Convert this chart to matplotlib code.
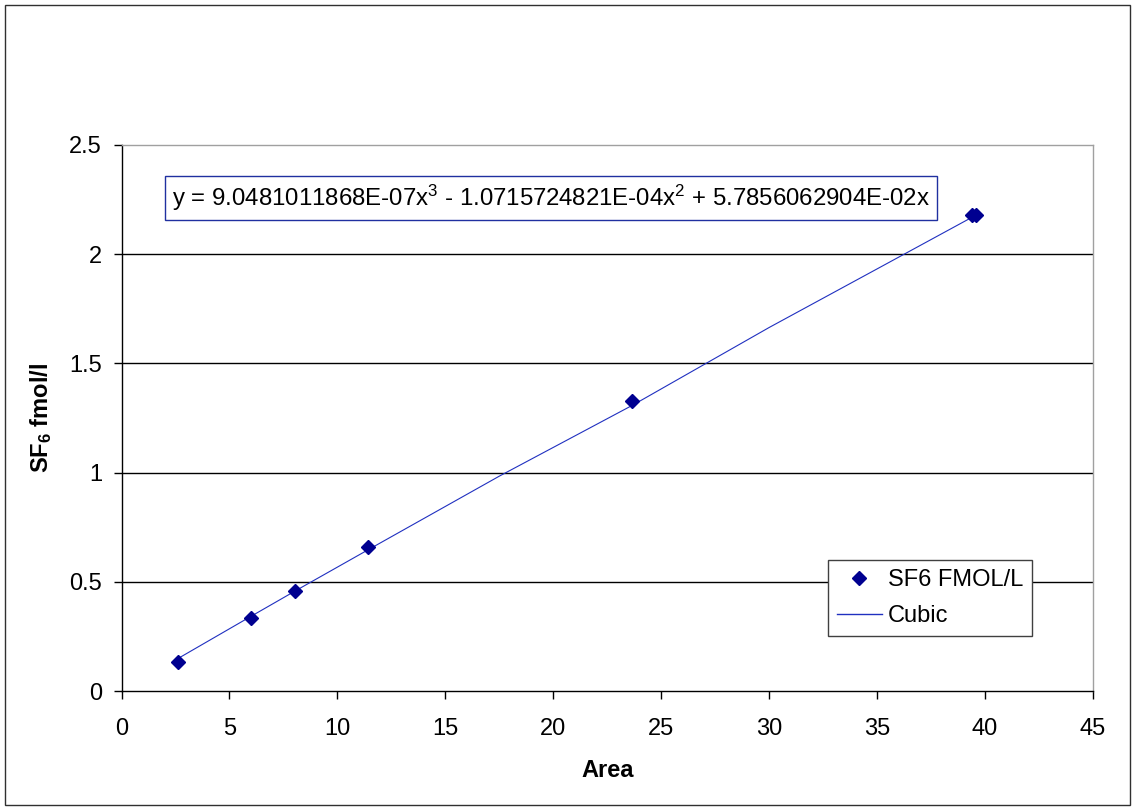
import matplotlib
matplotlib.use("Agg")
import matplotlib.pyplot as plt
from matplotlib.patches import Rectangle
from matplotlib.lines import Line2D

plt.rcParams['font.family'] = ['Liberation Sans', 'DejaVu Sans']
plt.rcParams['mathtext.fontset'] = 'custom'
plt.rcParams['mathtext.rm'] = 'Liberation Sans'
plt.rcParams['mathtext.it'] = 'Liberation Sans'
plt.rcParams['mathtext.bf'] = 'Liberation Sans:bold'
plt.rcParams['mathtext.default'] = 'regular'

# Data
area = [2.6, 6.0, 8.05, 11.4, 23.65, 39.4, 39.6]
sf6 = [0.135, 0.335, 0.459, 0.658, 1.326, 2.18, 2.18]

cubic_x = [2.6, 6.0, 8.1, 11.4, 17.5, 23.7, 30.0, 35.0, 39.6]
cubic_y = [0.149, 0.343, 0.462, 0.646, 0.984, 1.31, 1.664, 1.932, 2.179]

x_ticks = [0, 5, 10, 15, 20, 25, 30, 35, 40, 45]
y_ticks = [0, 0.5, 1, 1.5, 2, 2.5]
y_tick_labels = ['0', '0.5', '1', '1.5', '2', '2.5']

equation = r"y = 9.0481011868E-07x$^{3}$ - 1.0715724821E-04x$^{2}$ + 5.7856062904E-02x"

FS = 17

W, H = 1134, 809
fig = plt.figure(figsize=(W / 100, H / 100), dpi=100)
fig.patch.set_facecolor('white')
fig.patches.append(Rectangle((4.5 / W, 4.5 / H), (W - 9) / W, (H - 9) / H,
                             transform=fig.transFigure, fill=False,
                             edgecolor='#303030', linewidth=1.0))

ax = fig.add_axes([121.5 / W, 1 - 691.3 / H, (1093 - 121.5) / W, (691.3 - 144.7) / H])
ax.set_xlim(0, 45)
ax.set_ylim(0, 2.5)

ax.set_xticks(x_ticks)
ax.set_yticks(y_ticks)
ax.set_yticklabels(y_tick_labels)
ax.tick_params(axis='both', direction='out', length=6, width=1, color='black',
               labelsize=FS, labelcolor='black')
ax.tick_params(axis='y', pad=8)
ax.tick_params(axis='x', pad=13)

for y in y_ticks[1:-1]:
    ax.axhline(y, color='black', linewidth=1.0, zorder=1)

ax.spines['left'].set_color('black')
ax.spines['bottom'].set_color('black')
ax.spines['top'].set_color('#a0a0a0')
ax.spines['right'].set_color('#a0a0a0')
for s in ax.spines.values():
    s.set_linewidth(1.0)

ax.plot(cubic_x, cubic_y, color='#2030C0', linewidth=0.8, zorder=2)
ax.plot(area, sf6, linestyle='none', marker='D', markersize=7.5,
        color='#000090', markeredgecolor='#000090', zorder=3)

ax.set_xlabel('Area', fontsize=FS, fontweight='bold', labelpad=14)
ax.set_ylabel(r'SF$_{6}$ fmol/l', fontsize=FS, fontweight='bold', labelpad=11)

ax.text(172 / W, 1 - 198 / H, equation, transform=fig.transFigure,
        fontsize=17.3, va='center', ha='left',
        bbox=dict(boxstyle='square,pad=0.3', facecolor='white',
                  edgecolor='#2030A0', linewidth=1.0))

handles = [
    Line2D([], [], linestyle='none', marker='D', markersize=7.5,
           color='#000090', label='SF6 FMOL/L'),
    Line2D([], [], color='#2030C0', linewidth=1.0, label='Cubic'),
]
leg = ax.legend(handles=handles, loc='lower left',
                bbox_to_anchor=((828 - 121.5) / (1093 - 121.5), (691.3 - 636) / (691.3 - 144.7)),
                fontsize=FS, frameon=True, fancybox=False, framealpha=1,
                edgecolor='#404040', borderpad=0.38, labelspacing=0.6,
                handlelength=1.9, handletextpad=0.25, borderaxespad=0)
leg.get_frame().set_linewidth(1.0)

fig.savefig('out.png', dpi=100, facecolor='white')
